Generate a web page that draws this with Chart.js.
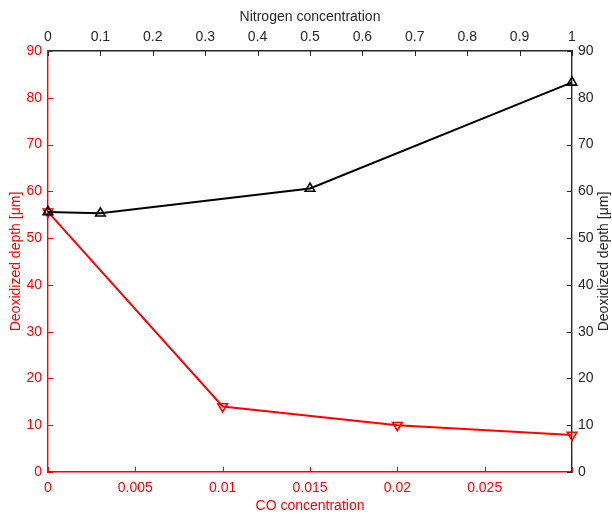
<!DOCTYPE html>
<html>
<head>
<meta charset="utf-8">
<script src="https://cdn.jsdelivr.net/npm/chart.js@4/dist/chart.umd.min.js"></script>
<style>
  body { margin: 0; background: #fff; }
</style>
</head>
<body>
<canvas id="depth-chart" width="612" height="516"></canvas>
<script>
// DATA //

const coConc = [0, 0.01, 0.02, 0.03];
const coDepth = [55.6, 14, 10, 7.9];

const n2Conc = [0, 0.1, 0.5, 1];
const n2Depth = [55.6, 55.3, 60.6, 83.3];

const depthTicks = [0, 10, 20, 30, 40, 50, 60, 70, 80, 90];

const RED = '#ff0000';
const DARK = '#262626';
const FONT = 'Liberation Sans, Arial, sans-serif';
const SIZE = 14;

// inward tick marks, matlab style
const innerTicks = {
    id: 'innerTicks',
    afterDatasetsDraw(chart) {
        const ctx = chart.ctx;
        const len = 5;
        ctx.save();
        ctx.lineWidth = 1;
        Object.values(chart.scales).forEach(scale => {
            ctx.strokeStyle = scale.options.border.color;
            ctx.beginPath();
            scale.ticks.forEach(t => {
                const p = Math.round(scale.getPixelForValue(t.value)) + 0.5;
                if (scale.position === 'left') {
                    ctx.moveTo(scale.right, p); ctx.lineTo(scale.right + len, p);
                } else if (scale.position === 'right') {
                    ctx.moveTo(scale.left, p); ctx.lineTo(scale.left - len, p);
                } else if (scale.position === 'top') {
                    ctx.moveTo(p, scale.bottom); ctx.lineTo(p, scale.bottom + len);
                } else {
                    ctx.moveTo(p, scale.top); ctx.lineTo(p, scale.top - len);
                }
            });
            ctx.stroke();
        });

        // right axis title reads bottom to top
        const y2 = chart.scales.y2;
        ctx.fillStyle = DARK;
        ctx.font = SIZE + 'px ' + FONT;
        ctx.textAlign = 'center';
        ctx.textBaseline = 'middle';
        ctx.translate(604, (y2.top + y2.bottom) / 2);
        ctx.rotate(-Math.PI / 2);
        ctx.fillText('Deoxidized depth [μm]', 0, 0);
        ctx.restore();
    }
};

const fmt = v => String(+v.toFixed(4));

const depthChart = new Chart(document.getElementById('depth-chart'), {
    type: 'scatter',
    data: {
        datasets: [{
            label: 'Nitrogen',
            data: n2Conc.map((x, i) => ({ x: x, y: n2Depth[i] })),
            xAxisID: 'x2',
            yAxisID: 'y2',
            showLine: true,
            clip: false,
            borderColor: '#000',
            borderWidth: 2,
            pointStyle: 'triangle',
            pointRadius: 5.5,
            pointBorderWidth: 1.6,
            pointBorderColor: '#000',
            pointBackgroundColor: 'rgba(0,0,0,0)'
        }, {
            label: 'CO',
            data: coConc.map((x, i) => ({ x: x, y: coDepth[i] })),
            xAxisID: 'x',
            yAxisID: 'y',
            showLine: true,
            clip: false,
            borderColor: RED,
            borderWidth: 2,
            pointStyle: 'triangle',
            pointRotation: 180,
            pointRadius: 5.5,
            pointBorderWidth: 1.6,
            pointBorderColor: RED,
            pointBackgroundColor: 'rgba(0,0,0,0)'
        }]
    },
    options: {
        responsive: false,
        animation: false,
        layout: { padding: 0 },
        plugins: {
            legend: { display: false },
            tooltip: { enabled: false }
        },
        scales: {
            x: {
                type: 'linear',
                position: 'bottom',
                min: 0,
                max: 0.03,
                afterFit: s => { s.height = 44; },
                border: { color: RED, width: 1.4 },
                grid: { display: true, drawOnChartArea: false, drawTicks: false, color: 'rgba(0,0,0,0)' },
                ticks: {
                    stepSize: 0.005,
                    color: RED,
                    padding: 8,
                    maxRotation: 0,
                    font: { family: FONT, size: SIZE },
                    callback: v => (v >= 0.0299 ? '' : fmt(v))
                },
                title: {
                    display: true,
                    text: 'CO concentration',
                    color: RED,
                    font: { family: FONT, size: SIZE },
                    padding: { top: 0, bottom: 1 }
                }
            },
            x2: {
                type: 'linear',
                position: 'top',
                min: 0,
                max: 1,
                afterFit: s => { s.height = 51; },
                border: { color: DARK, width: 1.4 },
                grid: { display: true, drawOnChartArea: false, drawTicks: false, color: 'rgba(0,0,0,0)' },
                ticks: {
                    stepSize: 0.1,
                    color: DARK,
                    padding: 5,
                    maxRotation: 0,
                    font: { family: FONT, size: SIZE },
                    callback: v => fmt(v)
                },
                title: {
                    display: true,
                    text: 'Nitrogen concentration',
                    color: DARK,
                    font: { family: FONT, size: SIZE },
                    padding: { top: 9, bottom: 0 }
                }
            },
            y: {
                type: 'linear',
                position: 'left',
                min: 0,
                max: 90,
                afterFit: s => { s.width = 48; },
                afterBuildTicks: s => { s.ticks = depthTicks.map(v => ({ value: v })); },
                border: { color: RED, width: 1.4 },
                grid: { display: true, drawOnChartArea: false, drawTicks: false, color: 'rgba(0,0,0,0)' },
                ticks: {
                    color: RED,
                    padding: 6,
                    font: { family: FONT, size: SIZE }
                },
                title: {
                    display: true,
                    text: 'Deoxidized depth [μm]',
                    color: RED,
                    font: { family: FONT, size: SIZE },
                    padding: { top: 8, bottom: 0 }
                }
            },
            y2: {
                type: 'linear',
                position: 'right',
                min: 0,
                max: 90,
                afterFit: s => { s.width = 40; },
                afterBuildTicks: s => { s.ticks = depthTicks.map(v => ({ value: v })); },
                border: { color: DARK, width: 1.4 },
                grid: { display: true, drawOnChartArea: false, drawTicks: false, color: 'rgba(0,0,0,0)' },
                ticks: {
                    color: DARK,
                    padding: 6,
                    font: { family: FONT, size: SIZE }
                }
            }
        }
    },
    plugins: [innerTicks]
});
</script>
</body>
</html>
